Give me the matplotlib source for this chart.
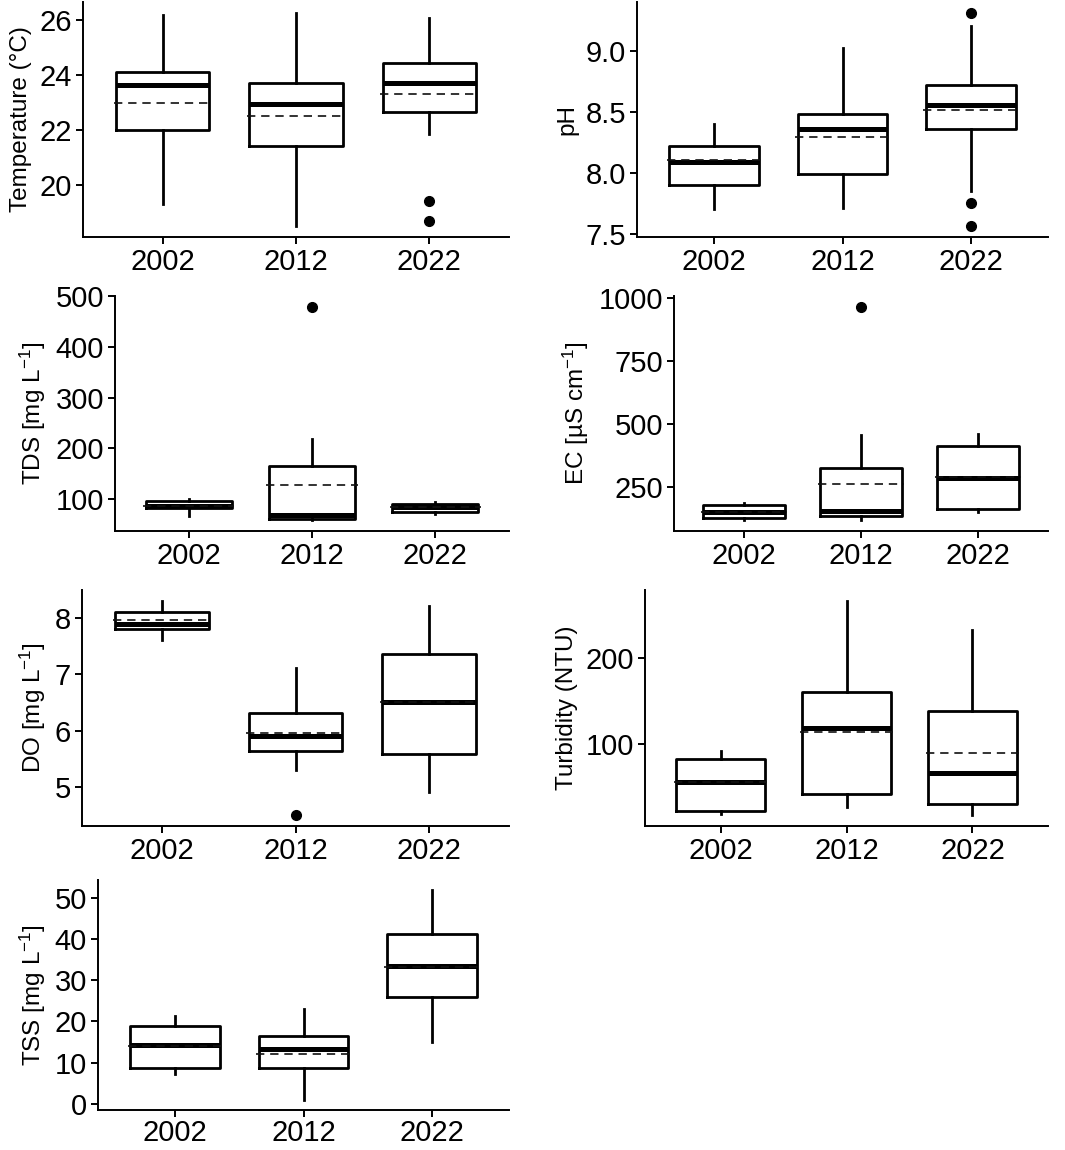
import numpy as np
import matplotlib.pyplot as plt

plt.rcParams['font.family'] = ['Liberation Sans', 'DejaVu Sans']
plt.rcParams['mathtext.default'] = 'regular'

years = ['2002', '2012', '2022']

# Temperature (°C)
temp_lo = [19.33, 18.51, 21.87]
temp_q1 = [22.00, 21.42, 22.67]
temp_med = [23.63, 22.96, 23.72]
temp_q3 = [24.13, 23.73, 24.46]
temp_hi = [26.18, 26.27, 26.06]
temp_mean = [22.98, 22.51, 23.32]
temp_out = [[], [], [19.42, 18.72]]

# pH
ph_lo = [7.70, 7.71, 7.85]
ph_q1 = [7.90, 7.99, 8.36]
ph_med = [8.09, 8.36, 8.55]
ph_q3 = [8.22, 8.48, 8.72]
ph_hi = [8.40, 9.02, 9.20]
ph_mean = [8.10, 8.29, 8.51]
ph_out = [[], [], [9.31, 7.75, 7.56]]

# TDS
tds_lo = [66, 58, 71]
tds_q1 = [82, 61, 74]
tds_med = [87, 69, 84]
tds_q3 = [96, 165, 90]
tds_hi = [100, 219, 95]
tds_mean = [87, 127, 84]
tds_out = [[], [479], []]

# EC
ec_lo = [120, 122, 154]
ec_q1 = [128, 136, 164]
ec_med = [153, 157, 286]
ec_q3 = [181, 328, 414]
ec_hi = [190, 456, 460]
ec_mean = [153, 263, 292]
ec_out = [[], [966], []]

# DO
do_lo = [7.61, 5.31, 4.91]
do_q1 = [7.80, 5.63, 5.58]
do_med = [7.88, 5.91, 6.51]
do_q3 = [8.10, 6.32, 7.35]
do_hi = [8.30, 7.10, 8.20]
do_mean = [7.95, 5.95, 6.51]
do_out = [[], [4.50], []]

# Turbidity
turb_lo = [20, 27, 18]
turb_q1 = [23, 43, 31]
turb_med = [56, 119, 67]
turb_q3 = [83, 160, 139]
turb_hi = [92, 266, 232]
turb_mean = [56, 114, 90]
turb_out = [[], [], []]

# TSS
tss_lo = [7.3, 1.0, 14.9]
tss_q1 = [8.7, 8.6, 25.9]
tss_med = [14.3, 13.2, 33.4]
tss_q3 = [18.8, 16.4, 41.1]
tss_hi = [21.3, 22.9, 51.8]
tss_mean = [14.0, 12.1, 33.2]
tss_out = [[], [], []]

W, H = 1065, 1150
fig = plt.figure(figsize=(W / 100, H / 100), dpi=100)


def add_panel(px, lo, q1, med, q3, hi, mean, out, ylabel, ticks, ticklabels, xpad=3):
    left, right, top, bottom = px
    ax = fig.add_axes([left / W, 1 - bottom / H, (right - left) / W, (bottom - top) / H])
    pos = np.arange(1, len(years) + 1)
    stats = []
    for i in range(len(years)):
        stats.append({'whislo': lo[i], 'q1': q1[i], 'med': med[i], 'q3': q3[i],
                      'whishi': hi[i], 'fliers': out[i]})
    ax.bxp(stats, positions=pos, widths=0.7, showcaps=False,
           boxprops=dict(color='black', linewidth=2.0),
           whiskerprops=dict(color='black', linewidth=2.0),
           medianprops=dict(color='black', linewidth=3.6, solid_capstyle='butt'),
           flierprops=dict(marker='o', markerfacecolor='black', markeredgecolor='black',
                           markersize=7))
    ax.hlines(mean, pos - 0.37, pos + 0.37, colors='#111111', linewidth=1.2,
              linestyles=(0, (5, 3.5)), zorder=4)
    ax.set_xlim(0.4, 3.6)
    ax.set_xticks(pos)
    ax.set_xticklabels(years)
    ax.set_yticks(ticks)
    ax.set_yticklabels(ticklabels)
    ax.set_ylabel(ylabel, fontsize=17.5, labelpad=5)
    for s in ['top', 'right']:
        ax.spines[s].set_visible(False)
    for s in ['left', 'bottom']:
        ax.spines[s].set_linewidth(1.4)
    ax.tick_params(axis='both', labelsize=21, length=5, width=1.4, pad=3, colors='black')
    ax.tick_params(axis='x', pad=xpad)
    return ax


ax1 = add_panel((83, 509, 2, 237), temp_lo, temp_q1, temp_med, temp_q3, temp_hi,
                temp_mean, temp_out, 'Temperature (°C)', [20, 22, 24, 26],
                ['20', '22', '24', '26'])
ax2 = add_panel((637, 1048, 2, 237), ph_lo, ph_q1, ph_med, ph_q3, ph_hi,
                ph_mean, ph_out, 'pH', [7.5, 8.0, 8.5, 9.0],
                ['7.5', '8.0', '8.5', '9.0'])
ax3 = add_panel((115, 509, 296, 531), tds_lo, tds_q1, tds_med, tds_q3, tds_hi,
                tds_mean, tds_out, 'TDS [mg L$^{-1}$]', [100, 200, 300, 400, 500],
                ['100', '200', '300', '400', '500'])
ax4 = add_panel((674, 1048, 296, 531), ec_lo, ec_q1, ec_med, ec_q3, ec_hi,
                ec_mean, ec_out, 'EC [µS cm$^{-1}$]', [250, 500, 750, 1000],
                ['250', '500', '750', '1000'])
ax5 = add_panel((82, 509, 590, 826), do_lo, do_q1, do_med, do_q3, do_hi,
                do_mean, do_out, 'DO [mg L$^{-1}$]', [5, 6, 7, 8],
                ['5', '6', '7', '8'])
ax6 = add_panel((645, 1048, 590, 826), turb_lo, turb_q1, turb_med, turb_q3, turb_hi,
                turb_mean, turb_out, 'Turbidity (NTU)', [100, 200], ['100', '200'])
ax7 = add_panel((98, 509, 880, 1110), tss_lo, tss_q1, tss_med, tss_q3, tss_hi,
                tss_mean, tss_out, 'TSS [mg L$^{-1}$]', [0, 10, 20, 30, 40, 50],
                ['0', '10', '20', '30', '40', '50'], xpad=1.5)

fig.savefig('out.png', dpi=100)
